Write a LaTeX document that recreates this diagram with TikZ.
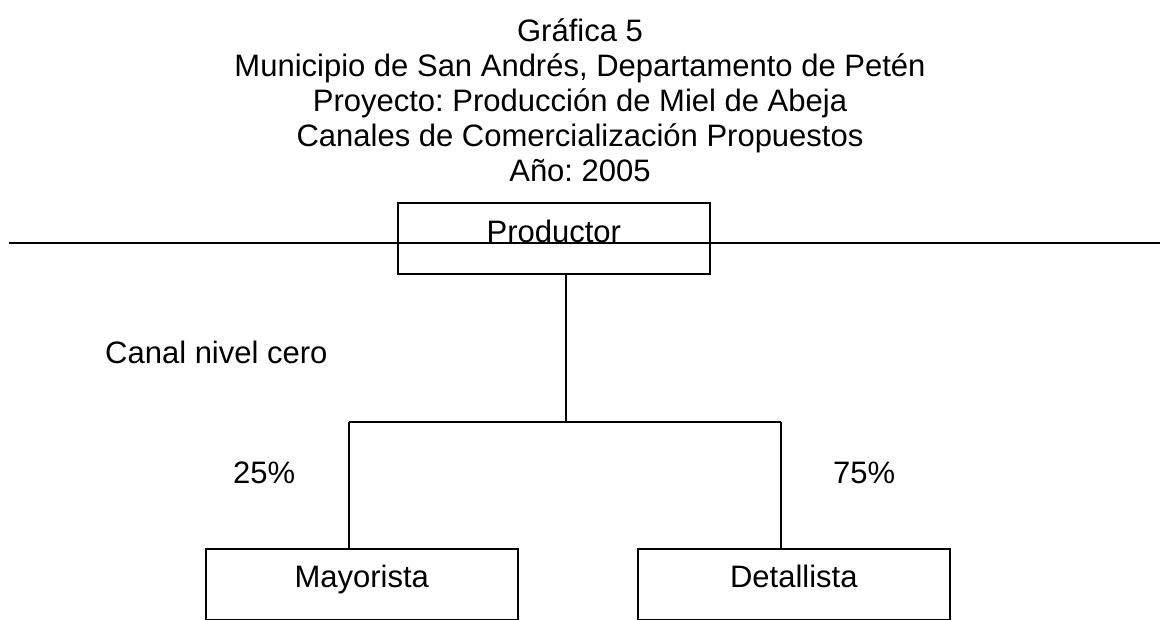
\documentclass[tikz,border=0pt]{standalone}
\usepackage{fontspec}
\setmainfont{Liberation Sans}
\frenchspacing
\begin{document}
\begin{tikzpicture}[x=1pt,y=-1pt,
  every node/.style={font=\fontsize{31}{35}\selectfont, inner sep=0pt},
  box/.style={draw, line width=1.6pt, minimum width=312pt, text height=40pt, text depth=31pt},
  conn/.style={line width=1.6pt},
  lbl/.style={anchor=base west},
  ttl/.style={anchor=base}]
\path[use as bounding box] (0,0) rectangle (1160,620);
% title
\node[ttl] (t1) at (580,42) {Gráfica 5};
\node[ttl] (t2) at (580,77) {Municipio de San Andrés, Departamento de Petén};
\node[ttl] (t3) at (580,112) {Proyecto: Producción de Miel de Abeja};
\node[ttl] (t4) at (580,147) {Canales de Comercialización Propuestos};
\node[ttl] (t5) at (580,182) {Año: 2005};
% boxes
\node[box, anchor=north west] (prod) at (397,202) {Productor};
\node[box, anchor=north west, text height=39pt, text depth=32pt] (may) at (205,548) {Mayorista};
\node[box, anchor=north west, text height=39pt, text depth=32pt] (det) at (637,548) {Detallista};
% long horizontal line
\coordinate (hl) at (9,243);
\coordinate (hr) at (1160,243);
\draw[line width=2pt] (hl) -- (hr);
% connectors
\coordinate (j) at (566,422);
\coordinate (jl) at (349,422);
\coordinate (jr) at (781,422);
\draw[conn] (prod.south -| j) -- (j);
\draw[conn] (jl) -- (jr);
\draw[conn] (jl) -- (may.north -| jl);
\draw[conn] (jr) -- (det.north -| jr);
% labels
\node[lbl] (canal) at (105,364) {Canal nivel cero};
\node[lbl] (p25) at (233,483) {25\%};
\node[lbl] (p75) at (833,483) {75\%};
\end{tikzpicture}
\end{document}
